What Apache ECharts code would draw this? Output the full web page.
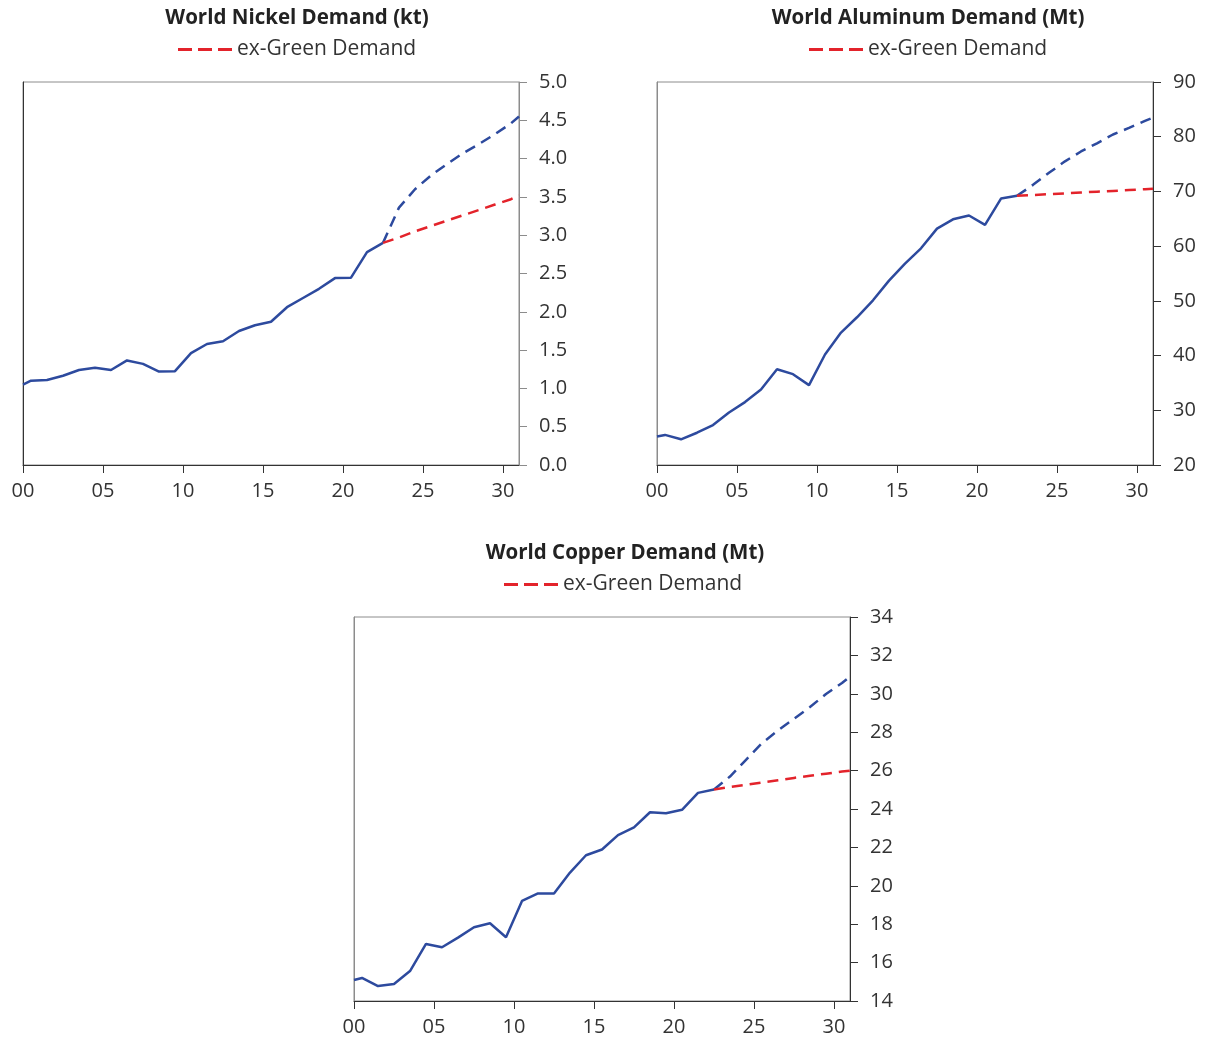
<!DOCTYPE html>
<html>
<head>
<meta charset="utf-8">
<script src="https://cdn.jsdelivr.net/npm/echarts@6/dist/echarts.min.js"></script>
<style>
html,body{margin:0;padding:0;background:#fff;}
#c{width:1206px;height:1042px;}
</style>
</head>
<body>
<div id="c"></div>
<script>
// x positions (years) of historical and projected points
const xHist = [2000, 2000.5, 2001.5, 2002.5, 2003.5, 2004.5, 2005.5, 2006.5, 2007.5, 2008.5, 2009.5, 2010.5, 2011.5, 2012.5, 2013.5, 2014.5, 2015.5, 2016.5, 2017.5, 2018.5, 2019.5, 2020.5, 2021.5, 2022.5];
const xProj = [2022.5, 2023.5, 2024.5, 2025.5, 2026.5, 2027.5, 2028.5, 2029.5, 2030.5, 2031];

const nickelHist = [1.05, 1.10, 1.11, 1.165, 1.24, 1.27, 1.24, 1.365, 1.32, 1.22, 1.225, 1.46, 1.58, 1.615, 1.75, 1.825, 1.87, 2.06, 2.18, 2.30, 2.44, 2.445, 2.78, 2.90];
const nickelProj = [2.90, 3.36, 3.60, 3.78, 3.93, 4.07, 4.19, 4.32, 4.46, 4.55];
const nickelExGreen = [2.90, 2.97, 3.05, 3.12, 3.19, 3.26, 3.33, 3.40, 3.47, 3.52];

const aluHist = [25.2, 25.5, 24.7, 25.9, 27.3, 29.6, 31.5, 33.8, 37.5, 36.6, 34.6, 40.2, 44.2, 47.0, 50.1, 53.7, 56.8, 59.6, 63.2, 64.9, 65.6, 63.9, 68.7, 69.2];
const aluProj = [69.2, 71.2, 73.4, 75.5, 77.3, 78.8, 80.4, 81.6, 82.9, 83.5];
const aluExGreen = [69.2, 69.35, 69.5, 69.65, 69.8, 69.95, 70.1, 70.25, 70.4, 70.5];

const cuHist = [15.09, 15.2, 14.78, 14.89, 15.56, 16.97, 16.80, 17.30, 17.84, 18.05, 17.32, 19.21, 19.60, 19.60, 20.69, 21.59, 21.89, 22.64, 23.04, 23.83, 23.78, 23.96, 24.84, 25.02];
const cuProj = [25.02, 25.69, 26.56, 27.43, 28.09, 28.70, 29.31, 29.99, 30.56, 30.9];
const cuExGreen = [25.02, 25.14, 25.26, 25.38, 25.50, 25.62, 25.73, 25.84, 25.95, 26.0];

const titles = ['World Nickel Demand (kt)', 'World Aluminum Demand (Mt)', 'World Copper Demand (Mt)'];
const legendName = 'ex-Green Demand';
const yMin = [0, 20, 14], yMax = [5, 90, 34], yStep = [0.5, 10, 2], yDec = [1, 0, 0];

const FONT = 'Open Sans';
const BLUE = '#2D4A9E', RED = '#E3232B', DARK = '#333333', GRAY = '#8c8c8c';

const grids = [
  {left: 23, top: 82, width: 496, height: 383},
  {left: 657, top: 82, width: 496, height: 383},
  {left: 354, top: 617, width: 496, height: 384}
];
const titlePos = [{x: 292, y: 3}, {x: 923, y: 3}, {x: 620, y: 538}];
const legendPos = [{x: 173, y: 34}, {x: 804, y: 34}, {x: 499, y: 569}];
const leftColor = [DARK, GRAY, GRAY];
const rightColor = [GRAY, DARK, DARK];

const pair = (xs, ys) => xs.map((x, i) => [x, ys[i]]);
const hist = [nickelHist, aluHist, cuHist];
const proj = [nickelProj, aluProj, cuProj];
const exg = [nickelExGreen, aluExGreen, cuExGreen];
const DASH = [11, 7];

const option = {
  animation: false,
  backgroundColor: '#fff',
  textStyle: {fontFamily: FONT},
  title: titles.map((t, i) => ({
    text: t, left: titlePos[i].x, top: titlePos[i].y, textAlign: 'center',
    textStyle: {fontFamily: FONT, fontWeight: 'bold', fontSize: 20.5, color: '#222'}
  })),
  legend: legendPos.map(p => ({
    data: [legendName], left: p.x, top: p.y,
    icon: 'path://M0,0h14v3h-14z M20,0h14v3h-14z M40,0h14v3h-14z',
    itemWidth: 54, itemHeight: 3,
    textStyle: {fontFamily: FONT, fontSize: 21, color: '#333'},
    selectedMode: false
  })),
  grid: grids.map(g => Object.assign({show: true, borderColor: GRAY, borderWidth: 1, backgroundColor: '#fff'}, g)),
  xAxis: grids.map((g, i) => ({
    type: 'value', gridIndex: i, min: 2000, max: 2031, interval: 5,
    axisLine: {show: true, lineStyle: {color: DARK, width: 1}},
    axisTick: {show: true, length: 8, lineStyle: {color: DARK}},
    axisLabel: {margin: 16, fontFamily: FONT, fontSize: 20, color: '#333',
      formatter: v => String(v % 100).padStart(2, '0')},
    splitLine: {show: false}
  })),
  yAxis: [].concat(...grids.map((g, i) => [
    {
      type: 'value', gridIndex: i, position: 'right', min: yMin[i], max: yMax[i], interval: yStep[i],
      axisLine: {show: true, lineStyle: {color: rightColor[i], width: 1}},
      axisTick: {show: true, length: 8, lineStyle: {color: rightColor[i]}},
      axisLabel: {margin: 20, fontFamily: FONT, fontSize: 20, color: '#333',
        formatter: v => v.toFixed(yDec[i])},
      splitLine: {show: false}
    },
    {
      type: 'value', gridIndex: i, position: 'left', min: yMin[i], max: yMax[i],
      axisLine: {show: true, onZero: false, lineStyle: {color: leftColor[i], width: 1}},
      axisTick: {show: false}, axisLabel: {show: false}, splitLine: {show: false}
    }
  ])),
  series: [].concat(...grids.map((g, i) => [
    {type: 'line', xAxisIndex: i, yAxisIndex: 2 * i, data: pair(xHist, hist[i]),
      showSymbol: false, symbol: 'none', clip: true,
      lineStyle: {color: BLUE, width: 2.5}, itemStyle: {color: BLUE}, z: 3},
    {type: 'line', xAxisIndex: i, yAxisIndex: 2 * i, data: pair(xProj, proj[i]),
      showSymbol: false, symbol: 'none', clip: true,
      lineStyle: {color: BLUE, width: 2.5, type: DASH}, itemStyle: {color: BLUE}, z: 3},
    {name: legendName, type: 'line', xAxisIndex: i, yAxisIndex: 2 * i, data: pair(xProj, exg[i]),
      showSymbol: false, symbol: 'none', clip: true,
      lineStyle: {color: RED, width: 2.5, type: DASH}, itemStyle: {color: RED}, z: 4}
  ]))
};

const chart = echarts.init(document.getElementById('c'), null, {renderer: 'canvas'});
chart.setOption(option);
</script>
</body>
</html>
